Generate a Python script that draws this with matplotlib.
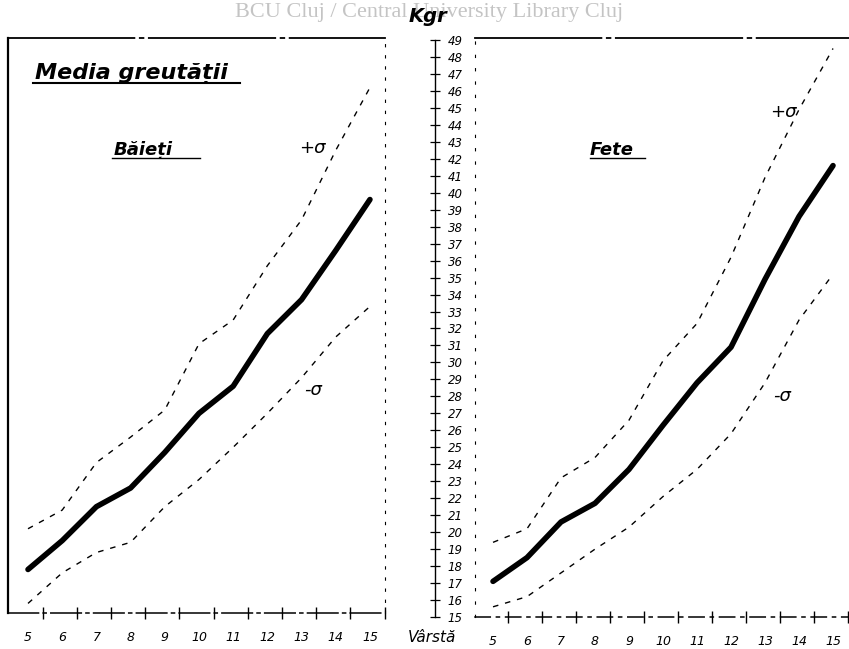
import matplotlib.pyplot as plt

# varsta (ani)
ages = [5, 6, 7, 8, 9, 10, 11, 12, 13, 14, 15]

# baieti - greutate medie si +/- sigma (kg)
boys_mean = [17.8, 19.5, 21.5, 22.6, 24.7, 27.0, 28.6, 31.7, 33.7, 36.6, 39.6]
boys_plus = [20.2, 21.3, 24.1, 25.6, 27.2, 31.1, 32.5, 35.7, 38.4, 42.5, 46.2]
boys_minus = [15.8, 17.6, 18.8, 19.4, 21.5, 23.1, 25.0, 27.0, 29.1, 31.5, 33.3]

# fete
girls_mean = [17.1, 18.5, 20.6, 21.7, 23.7, 26.3, 28.8, 30.9, 34.9, 38.6, 41.6]
girls_plus = [19.4, 20.2, 23.2, 24.4, 26.6, 30.1, 32.3, 36.2, 40.9, 44.9, 48.5]
girls_minus = [15.6, 16.2, 17.6, 19.0, 20.3, 22.1, 23.7, 25.8, 28.8, 32.5, 35.2]

kg_ticks = list(range(15, 50))

W, H = 849, 649
fig = plt.figure(figsize=(W / 100, H / 100), dpi=100)

def px(l, t, r, b):
    return [l / W, 1 - b / H, (r - l) / W, (b - t) / H]

axL = fig.add_axes(px(8, 38, 385, 613))
axR = fig.add_axes(px(475, 38, 849, 617))
axK = fig.add_axes(px(434, 40, 434.5, 617))

def panel(ax, mean, plus, minus, xlim, ylim):
    ax.plot(ages, plus, color='black', lw=1.0, ls=(0, (4, 5)))
    ax.plot(ages, minus, color='black', lw=1.0, ls=(0, (4, 5)))
    ax.plot(ages, mean, color='black', lw=4.0, solid_capstyle='round')
    ax.set_xlim(*xlim)
    ax.set_ylim(*ylim)
    ax.set_yticks([])
    ax.set_xticks(ages)
    ax.set_xticklabels([str(a) for a in ages], fontstyle='italic', fontsize=9)
    ax.set_xticks([a + 0.43 for a in ages], minor=True)
    ax.tick_params(axis='x', which='major', length=0, pad=13)
    ax.tick_params(axis='x', which='minor', direction='inout', length=9, width=1)
    ax.patch.set_alpha(0)

panel(axL, boys_mean, boys_plus, boys_minus, (4.415, 15.44), (15.235, 49.118))
panel(axR, girls_mean, girls_plus, girls_minus, (4.47, 15.47), (15.0, 49.118))

axL.spines['left'].set_linewidth(1.6)
axL.spines['top'].set_linewidth(1.3)
axL.spines['top'].set_linestyle((0, (70, 3, 2, 3)))
axL.spines['right'].set_linewidth(0.8)
axL.spines['right'].set_linestyle((0, (2, 8)))
axL.spines['bottom'].set_linewidth(1.1)
axL.spines['bottom'].set_linestyle((0, (20, 3, 2, 3)))

axR.spines['left'].set_linewidth(0.8)
axR.spines['left'].set_linestyle((0, (2, 10)))
axR.spines['top'].set_linewidth(1.3)
axR.spines['top'].set_linestyle((0, (70, 3, 2, 3)))
axR.spines['bottom'].set_linewidth(1.1)
axR.spines['bottom'].set_linestyle((0, (10, 4, 2, 4)))
axR.spines['right'].set_visible(False)

# scala centrala (kg)
axK.set_ylim(15, 49)
axK.set_xticks([])
for s in ['left', 'top', 'bottom']:
    axK.spines[s].set_visible(False)
axK.spines['right'].set_linewidth(1.0)
axK.yaxis.tick_right()
axK.set_yticks(kg_ticks)
axK.set_yticklabels([str(k) for k in kg_ticks], fontstyle='italic', fontsize=8.5)
axK.tick_params(axis='y', direction='inout', length=7, width=0.9, pad=6)

# texte
axL.text(0.072, 0.930, 'Media greutății', transform=axL.transAxes,
         fontsize=16, fontstyle='italic', fontweight='bold')
axL.plot([0.066, 0.615], [0.921, 0.921], transform=axL.transAxes, color='black', lw=1.5)
axL.text(0.279, 0.797, 'Băieți', transform=axL.transAxes,
         fontsize=13, fontstyle='italic', fontweight='bold')
axL.plot([0.276, 0.509], [0.791, 0.791], transform=axL.transAxes, color='black', lw=1.0)
axL.text(0.806, 0.809, '+σ', transform=axL.transAxes, fontsize=13,
         fontstyle='italic', ha='center', va='center')
axL.text(0.809, 0.388, '-σ', transform=axL.transAxes, fontsize=13,
         fontstyle='italic', ha='center', va='center')

axR.text(0.307, 0.798, 'Fete', transform=axR.transAxes,
         fontsize=13, fontstyle='italic', fontweight='bold')
axR.plot([0.307, 0.455], [0.792, 0.792], transform=axR.transAxes, color='black', lw=1.0)
axR.text(0.824, 0.872, '+σ', transform=axR.transAxes, fontsize=13,
         fontstyle='italic', ha='center', va='center')
axR.text(0.821, 0.382, '-σ', transform=axR.transAxes, fontsize=13,
         fontstyle='italic', ha='center', va='center')

fig.text(432 / W, 1 - 638 / H, 'Vârstă', fontsize=11, fontstyle='italic',
         ha='center', va='center')
fig.text(428 / W, 1 - 17 / H, 'Kgr', fontsize=14, fontstyle='italic',
         fontweight='bold', ha='center', va='center', zorder=5)

fig.text(0.505, 1 - 12 / H, 'BCU Cluj / Central University Library Cluj',
         family='Liberation Serif', fontsize=16, color='#c4c4c4',
         ha='center', va='center', zorder=1)

fig.savefig('out.png', dpi=100)
